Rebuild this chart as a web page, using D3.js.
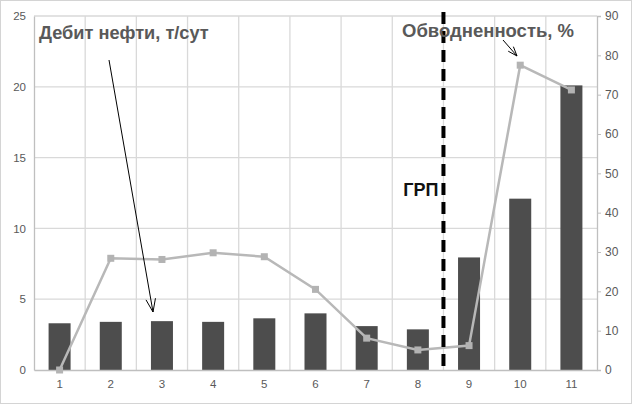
<html>
<head>
<meta charset="utf-8">
<script src="https://d3js.org/d3.v7.min.js"></script>
<style>
  body { margin: 0; background: #ffffff; }
  text { font-family: "Liberation Sans", Arial, sans-serif; }
</style>
</head>
<body>
<div id="chart"></div>
<script>
// data
var wells = ["1", "2", "3", "4", "5", "6", "7", "8", "9", "10", "11"];
var oilRate = [3.3, 3.4, 3.45, 3.4, 3.65, 4.0, 3.1, 2.87, 7.95, 12.1, 20.1];   // т/сут, left axis
var waterCut = [0, 28.4, 28.1, 29.8, 28.8, 20.5, 8.1, 5.1, 6.2, 77.5, 71.2];  // %, right axis
var leftTicks = [0, 5, 10, 15, 20, 25];
var rightTicks = [0, 10, 20, 30, 40, 50, 60, 70, 80, 90];

var W = 632, H = 404;
var margin = {top: 16, right: 35, bottom: 34, left: 34},
    width = W - margin.left - margin.right,
    height = H - margin.top - margin.bottom;

var svg = d3.select("#chart").append("svg")
    .attr("width", W).attr("height", H);

// outer frame
svg.append("rect")
    .attr("x", 0.5).attr("y", 0.5)
    .attr("width", W - 1).attr("height", H - 1)
    .attr("fill", "none").attr("stroke", "#d4d4d4");

var g = svg.append("g")
    .attr("transform", "translate(" + margin.left + "," + margin.top + ")");

var x = d3.scaleBand().domain(wells).range([0, width]).paddingInner(0).paddingOuter(0);
var yL = d3.scaleLinear().domain([0, 25]).range([height, 0]);
var yR = d3.scaleLinear().domain([0, 90]).range([height, 0]);

// horizontal grid
g.append("g").selectAll("line")
  .data(leftTicks.slice(1))
  .enter().append("line")
    .attr("x1", 0).attr("x2", width)
    .attr("y1", function(d) { return yL(d); })
    .attr("y2", function(d) { return yL(d); })
    .attr("stroke", "#d9d9d9").attr("stroke-width", 1.3);

// vertical grid at category boundaries
g.append("g").selectAll("line")
  .data(wells.slice(1))
  .enter().append("line")
    .attr("x1", function(d) { return x(d); })
    .attr("x2", function(d) { return x(d); })
    .attr("y1", 0).attr("y2", height)
    .attr("stroke", "#d9d9d9").attr("stroke-width", 1.3);

// bars
var barW = 22;
g.append("g").selectAll("rect")
  .data(oilRate)
  .enter().append("rect")
    .attr("x", function(d, i) { return x(wells[i]) + x.bandwidth() / 2 - barW / 2; })
    .attr("y", function(d) { return yL(d); })
    .attr("width", barW)
    .attr("height", function(d) { return height - yL(d); })
    .attr("fill", "#4d4d4d");

// axes
var axL = g.append("g")
    .call(d3.axisLeft(yL).tickValues(leftTicks).tickSize(0).tickPadding(8));
var axR = g.append("g")
    .attr("transform", "translate(" + width + ",0)")
    .call(d3.axisRight(yR).tickValues(rightTicks).tickSize(4).tickPadding(4));
var axB = g.append("g")
    .attr("transform", "translate(0," + height + ")")
    .call(d3.axisBottom(x).tickSize(0).tickPadding(10));

[axL, axR, axB].forEach(function(a) {
  a.select(".domain").attr("stroke", "#bfbfbf").attr("stroke-width", 1.3);
  a.selectAll("line").attr("stroke", "#bfbfbf");
  a.selectAll("text").attr("fill", "#595959").style("font-size", "11.5px");
});
axR.selectAll("text").style("font-size", "12px");

// water cut line
var line = d3.line()
    .x(function(d, i) { return x(wells[i]) + x.bandwidth() / 2; })
    .y(function(d) { return yR(d); });

g.append("path")
    .datum(waterCut)
    .attr("d", line)
    .attr("fill", "none")
    .attr("stroke", "#b8b8b8")
    .attr("stroke-width", 2.5);

g.append("g").selectAll("rect")
  .data(waterCut)
  .enter().append("rect")
    .attr("x", function(d, i) { return x(wells[i]) + x.bandwidth() / 2 - 3.5; })
    .attr("y", function(d) { return yR(d) - 3.5; })
    .attr("width", 7).attr("height", 7)
    .attr("fill", "#b3b3b3");

// hydraulic fracturing marker between 8 and 9
var fracX = x("9");
g.append("line")
    .attr("x1", fracX).attr("x2", fracX)
    .attr("y1", -4).attr("y2", height)
    .attr("stroke", "#000").attr("stroke-width", 4)
    .attr("stroke-dasharray", "12,7");

g.append("text")
    .attr("x", fracX - 5).attr("y", yL(12.3))
    .attr("text-anchor", "end")
    .attr("fill", "#111")
    .style("font-size", "18px").style("font-weight", "bold")
    .text("ГРП");

// labels
g.append("text")
    .attr("x", 5).attr("y", 23)
    .attr("fill", "#595959")
    .style("font-size", "18.2px").style("font-weight", "bold")
    .text("Дебит нефти, т/сут");

g.append("text")
    .attr("x", 368).attr("y", 21)
    .attr("fill", "#595959")
    .style("font-size", "18.5px").style("font-weight", "bold")
    .text("Обводненность, %");

// pointer arrows
function arrow(x1, y1, x2, y2, len) {
  var a = Math.atan2(y2 - y1, x2 - x1), s = 0.35;
  g.append("line")
      .attr("x1", x1).attr("y1", y1).attr("x2", x2).attr("y2", y2)
      .attr("stroke", "#000").attr("stroke-width", 1);
  [a + Math.PI - s, a + Math.PI + s].forEach(function(b) {
    g.append("line")
        .attr("x1", x2).attr("y1", y2)
        .attr("x2", x2 + len * Math.cos(b)).attr("y2", y2 + len * Math.sin(b))
        .attr("stroke", "#000").attr("stroke-width", 1);
  });
}
arrow(109 - margin.left, 60 - margin.top, 153 - margin.left, 312 - margin.top, 14);
arrow(503 - margin.left, 40 - margin.top, 517 - margin.left, 56 - margin.top, 10);
</script>
</body>
</html>
